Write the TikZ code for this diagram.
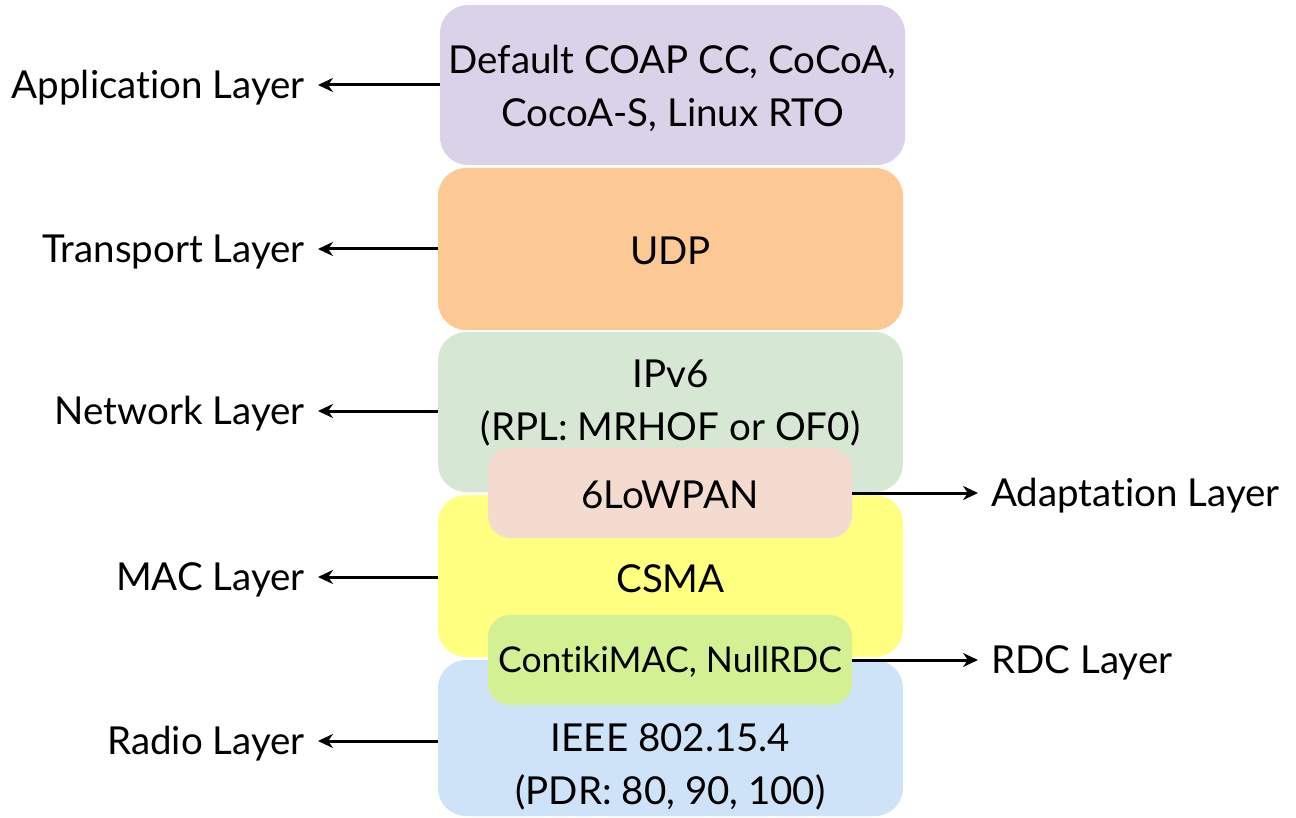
\documentclass[tikz,border=0pt]{standalone}
\usepackage{fontspec}
\setmainfont{Lato}[Ligatures={NoCommon,NoRare,NoDiscretionary}]
\usetikzlibrary{arrows.meta}
\definecolor{appcol}{HTML}{D9D2E9}
\definecolor{trncol}{HTML}{FCC994}
\definecolor{netcol}{HTML}{D6E8D4}
\definecolor{maccol}{HTML}{FFFF80}
\definecolor{adpcol}{HTML}{F4DBCF}
\definecolor{rdccol}{HTML}{D3F192}
\definecolor{radcol}{HTML}{CFE3F8}
\tikzset{
  txt/.style={font=\fontsize{38.5}{53}\selectfont, text=black},
  layerbox/.style={txt, rounded corners=28pt, minimum width=465pt, minimum height=160pt, inner sep=0pt, align=center},
  subbox/.style={txt, rounded corners=22pt, minimum width=364pt, minimum height=90pt, inner sep=0pt, align=center},
  boxtext/.style={txt, align=center, inner sep=0pt},
  lbl/.style={txt, inner ysep=0pt, inner xsep=13pt},
  arr/.style={line width=3pt, -{Stealth[length=15pt,width=14pt]}}
}
\begin{document}
\begin{tikzpicture}[x=1pt,y=-1pt]
\useasboundingbox (0,0) rectangle (1296,818);

% protocol stack
\node[layerbox, fill=appcol] (app) at (672.5,85) {};
\node[boxtext] (apptxt) at (672.5,88) {Default COAP CC, CoCoA,\\CocoA-S, Linux RTO};
\node[layerbox, fill=trncol, minimum height=162pt] (trn) at (670.5,249) {};
\node[boxtext] (trntxt) at (670.5,251) {UDP};
\node[layerbox, fill=netcol] (net) at (670.5,412) {};
\node[boxtext] (nettxt) at (670.5,403) {IPv6\\(RPL: MRHOF or OF0)};
\node[layerbox, fill=maccol, minimum height=162pt] (mac) at (670.5,576) {};
\node[boxtext] (mactxt) at (670.5,579) {CSMA};
\node[layerbox, fill=radcol, minimum height=156pt] (rad) at (670.5,738) {};
\node[boxtext] (radtxt) at (670.5,767) {IEEE 802.15.4\\(PDR: 80, 90, 100)};

% sublayers overlapping the boundaries
\node[subbox, fill=adpcol] (adp) at (670,493) {};
\node[boxtext] (adptxt) at (670,495) {6LoWPAN};
\node[subbox, fill=rdccol] (rdc) at (670,660) {};
\node[boxtext, font=\fontsize{35.5}{53}\selectfont] (rdctxt) at (670,662) {ContikiMAC, NullRDC};

% layer names on the left (\kern0pt keeps "t" and "i" as separate glyphs)
\node[lbl, anchor=east] (lapp) at (318,88) {Applicat\kern0pt ion Layer};
\node[lbl, anchor=east] (ltrn) at (318,252) {Transport Layer};
\node[lbl, anchor=east] (lnet) at (318,414) {Network Layer};
\node[lbl, anchor=east] (lmac) at (318,580) {MAC Layer};
\node[lbl, anchor=east] (lrad) at (318,744) {Radio Layer};

% layer names on the right
\node[lbl, anchor=west] (ladp) at (978,496) {Adaptat\kern0pt ion Layer};
\node[lbl, anchor=west] (lrdc) at (978,663) {RDC Layer};

\draw[arr] (app.west) -- (lapp.east |- app.west);
\draw[arr] (trn.west) -- (ltrn.east |- trn.west);
\draw[arr] (net.west |- 0,411) -- (lnet.east |- 0,411);
\draw[arr] (mac.west |- 0,577) -- (lmac.east |- 0,577);
\draw[arr] (rad.west |- 0,741) -- (lrad.east |- 0,741);
\draw[arr] (adp.east) -- (ladp.west |- adp.east);
\draw[arr] (rdc.east) -- (lrdc.west |- rdc.east);
\end{tikzpicture}
\end{document}
